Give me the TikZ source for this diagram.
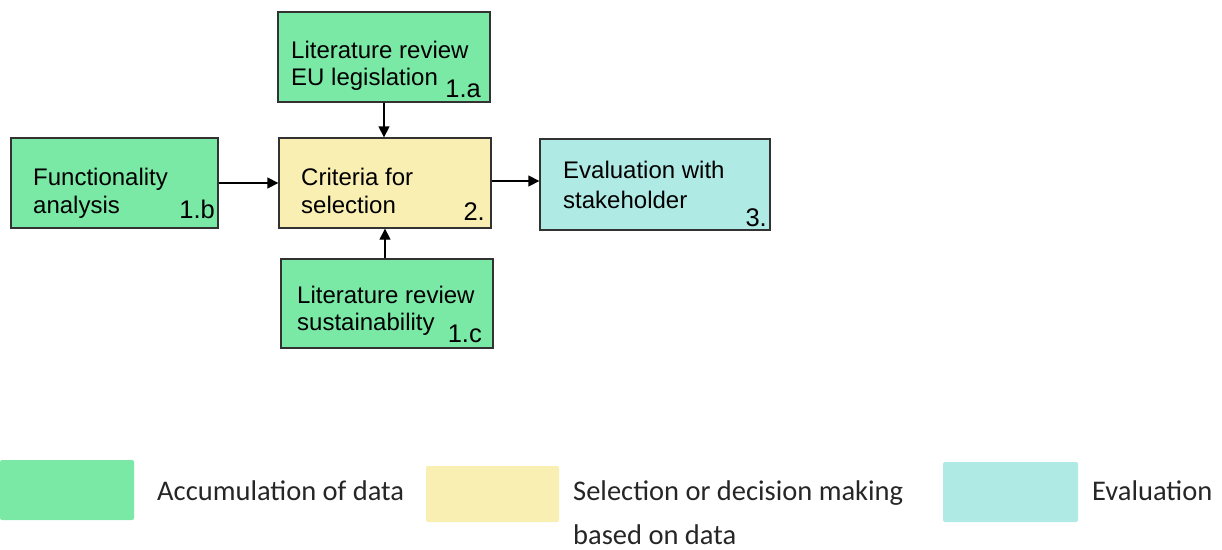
\documentclass[tikz,border=0pt]{standalone}
\usepackage{fontspec}
\setmainfont{Liberation Sans}
\newfontfamily\legendfont{Carlito}
\usetikzlibrary{arrows.meta}
\definecolor{accgreen}{RGB}{122,233,166}
\definecolor{selyellow}{RGB}{249,239,178}
\definecolor{evalcyan}{RGB}{176,234,228}
\definecolor{boxline}{RGB}{50,50,50}
\tikzset{
  box/.style={draw=boxline, line width=1.3pt, inner sep=0pt, minimum width=212pt, minimum height=90pt},
  txt/.style={anchor=base west, inner sep=0pt, font=\fontsize{24}{27}\selectfont, text=black},
  num/.style={anchor=base east, inner sep=0pt, font=\fontsize{25.5}{27}\selectfont, text=black},
  conn/.style={line width=1.3pt, draw=black, -{Triangle[length=11pt,width=11pt]}},
  legbox/.style={inner sep=0pt, rounded corners=2pt},
  legtxt/.style={anchor=base west, inner sep=0pt, font=\legendfont\fontsize{28.5}{45}\selectfont, text=black!85}
}
\begin{document}
\begin{tikzpicture}[x=1pt,y=-1pt]
\useasboundingbox (0,0) rectangle (1222,549);
% boxes
\node[box, fill=accgreen] (a) at (384,57) {};
\node[box, fill=selyellow] (c) at (385,183) {};
\node[box, fill=accgreen, minimum width=207pt] (b) at (114.5,183) {};
\node[box, fill=evalcyan, minimum width=230pt, minimum height=91pt] (e) at (655,184.5) {};
\node[box, fill=accgreen, minimum height=89pt] (d) at (387,303.5) {};
% texts
\node[txt] (a1) at (291,58) {Literature review};
\node[txt] (a2) at (291,85) {EU legislation};
\node[num] (an) at (481,97) {1.a};
\node[txt] (c1) at (301,185) {Criteria for};
\node[txt] (c2) at (301,213) {selection};
\node[num] (cn) at (485,220) {2.};
\node[txt] (b1) at (33,185) {Functionality};
\node[txt] (b2) at (33,213) {analysis};
\node[num] (bn) at (215,218) {1.b};
\node[txt] (e1) at (563,178) {Evaluation with};
\node[txt] (e2) at (563,208) {stakeholder};
\node[num] (en) at (767,226) {3.};
\node[txt] (d1) at (297,303) {Literature review};
\node[txt] (d2) at (297,330) {sustainability};
\node[num] (dn) at (482,342) {1.c};
% connectors
\draw[conn] (a.south -| 384,0) -- (c.north -| 384,0);
\draw[conn] (d.north -| 385,0) -- (c.south -| 385,0);
\draw[conn] (b.east) -- (c.west);
\draw[conn] (c.east |- 0,181) -- (e.west |- 0,181);
% legend
\node[legbox, fill=accgreen, minimum width=134pt, minimum height=60pt] (lg) at (67,490) {};
\node[legbox, fill=selyellow, minimum width=133pt, minimum height=56pt] (ly) at (492.5,494) {};
\node[legbox, fill=evalcyan, minimum width=135pt, minimum height=60pt] (lc) at (1010.5,492) {};
\node[legtxt] (lt1) at (157,500) {Accumulation of data};
\node[legtxt] (lt2) at (573,500) {Selection or decision making};
\node[legtxt] (lt3) at (573,544) {based on data};
\node[legtxt] (lt4) at (1092,500) {Evaluation};
\end{tikzpicture}
\end{document}
